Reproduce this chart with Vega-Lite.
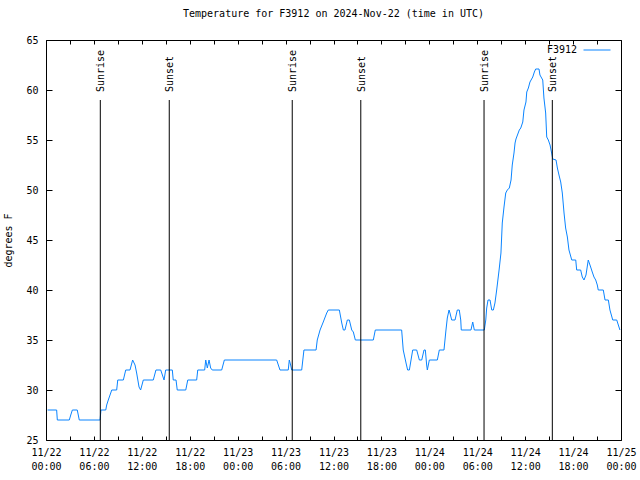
{
  "$schema": "https://vega.github.io/schema/vega-lite/v6.json",
  "width": 575,
  "height": 400,
  "autosize": {"type": "none"},
  "padding": {"left": 46, "top": 40, "right": 19, "bottom": 40},
  "background": "white",
  "title": {"text": "Temperature for F3912 on 2024-Nov-22 (time in UTC)", "font": "DejaVu Sans Mono", "fontSize": 10, "fontWeight": "normal", "anchor": "middle", "offset": 16, "color": "black"},
  "config": {
    "font": "DejaVu Sans Mono",
    "view": {"stroke": "black", "strokeWidth": 1},
    "axis": {"labelFont": "DejaVu Sans Mono", "labelFontSize": 10, "labelColor": "black", "tickColor": "black", "tickWidth": 1, "domain": false, "grid": false, "titleFont": "DejaVu Sans Mono", "titleFontSize": 10, "titleFontWeight": "normal", "titleColor": "black"}
  },
  "datasets": {
    "temps": [
      {"time": "2024-11-22T00:12:00Z", "temp": 28},
      {"time": "2024-11-22T01:20:00Z", "temp": 28},
      {"time": "2024-11-22T01:25:00Z", "temp": 27},
      {"time": "2024-11-22T02:55:00Z", "temp": 27},
      {"time": "2024-11-22T03:06:00Z", "temp": 27.5},
      {"time": "2024-11-22T03:18:00Z", "temp": 28},
      {"time": "2024-11-22T03:55:00Z", "temp": 28},
      {"time": "2024-11-22T04:10:00Z", "temp": 27},
      {"time": "2024-11-22T06:46:00Z", "temp": 27},
      {"time": "2024-11-22T06:53:00Z", "temp": 28},
      {"time": "2024-11-22T07:29:00Z", "temp": 28},
      {"time": "2024-11-22T07:36:00Z", "temp": 28.5},
      {"time": "2024-11-22T07:48:00Z", "temp": 29},
      {"time": "2024-11-22T08:01:00Z", "temp": 29.5},
      {"time": "2024-11-22T08:14:00Z", "temp": 30},
      {"time": "2024-11-22T08:51:00Z", "temp": 30},
      {"time": "2024-11-22T08:59:00Z", "temp": 31},
      {"time": "2024-11-22T09:41:00Z", "temp": 31},
      {"time": "2024-11-22T09:59:00Z", "temp": 32},
      {"time": "2024-11-22T10:31:00Z", "temp": 32},
      {"time": "2024-11-22T10:51:00Z", "temp": 33},
      {"time": "2024-11-22T11:09:00Z", "temp": 32.5},
      {"time": "2024-11-22T11:21:00Z", "temp": 31.7},
      {"time": "2024-11-22T11:39:00Z", "temp": 30.3},
      {"time": "2024-11-22T11:51:00Z", "temp": 30},
      {"time": "2024-11-22T12:11:00Z", "temp": 31},
      {"time": "2024-11-22T13:26:00Z", "temp": 31},
      {"time": "2024-11-22T13:46:00Z", "temp": 32},
      {"time": "2024-11-22T14:22:00Z", "temp": 32},
      {"time": "2024-11-22T14:47:00Z", "temp": 31},
      {"time": "2024-11-22T14:59:00Z", "temp": 32},
      {"time": "2024-11-22T15:49:00Z", "temp": 32},
      {"time": "2024-11-22T15:56:00Z", "temp": 31},
      {"time": "2024-11-22T16:17:00Z", "temp": 31},
      {"time": "2024-11-22T16:26:00Z", "temp": 30},
      {"time": "2024-11-22T17:30:00Z", "temp": 30},
      {"time": "2024-11-22T17:45:00Z", "temp": 31},
      {"time": "2024-11-22T18:52:00Z", "temp": 31},
      {"time": "2024-11-22T19:00:00Z", "temp": 32},
      {"time": "2024-11-22T19:52:00Z", "temp": 32},
      {"time": "2024-11-22T20:00:00Z", "temp": 33},
      {"time": "2024-11-22T20:12:00Z", "temp": 32.2},
      {"time": "2024-11-22T20:25:00Z", "temp": 33},
      {"time": "2024-11-22T20:37:00Z", "temp": 32.2},
      {"time": "2024-11-22T20:49:00Z", "temp": 32},
      {"time": "2024-11-22T22:00:00Z", "temp": 32},
      {"time": "2024-11-22T22:20:00Z", "temp": 33},
      {"time": "2024-11-23T04:53:00Z", "temp": 33},
      {"time": "2024-11-23T05:18:00Z", "temp": 32},
      {"time": "2024-11-23T06:20:00Z", "temp": 32},
      {"time": "2024-11-23T06:28:00Z", "temp": 33},
      {"time": "2024-11-23T06:38:00Z", "temp": 32.5},
      {"time": "2024-11-23T06:46:00Z", "temp": 32},
      {"time": "2024-11-23T08:01:00Z", "temp": 32},
      {"time": "2024-11-23T08:18:00Z", "temp": 34},
      {"time": "2024-11-23T09:49:00Z", "temp": 34},
      {"time": "2024-11-23T09:58:00Z", "temp": 35},
      {"time": "2024-11-23T10:19:00Z", "temp": 36},
      {"time": "2024-11-23T10:43:00Z", "temp": 36.8},
      {"time": "2024-11-23T11:09:00Z", "temp": 37.7},
      {"time": "2024-11-23T11:21:00Z", "temp": 38},
      {"time": "2024-11-23T12:44:00Z", "temp": 38},
      {"time": "2024-11-23T13:02:00Z", "temp": 36.7},
      {"time": "2024-11-23T13:14:00Z", "temp": 36},
      {"time": "2024-11-23T13:26:00Z", "temp": 36},
      {"time": "2024-11-23T13:44:00Z", "temp": 37},
      {"time": "2024-11-23T13:59:00Z", "temp": 37},
      {"time": "2024-11-23T14:17:00Z", "temp": 36},
      {"time": "2024-11-23T14:29:00Z", "temp": 35.8},
      {"time": "2024-11-23T14:44:00Z", "temp": 35},
      {"time": "2024-11-23T16:59:00Z", "temp": 35},
      {"time": "2024-11-23T17:14:00Z", "temp": 36},
      {"time": "2024-11-23T20:32:00Z", "temp": 36},
      {"time": "2024-11-23T20:44:00Z", "temp": 34},
      {"time": "2024-11-23T21:05:00Z", "temp": 32.7},
      {"time": "2024-11-23T21:17:00Z", "temp": 32},
      {"time": "2024-11-23T21:30:00Z", "temp": 32},
      {"time": "2024-11-23T21:55:00Z", "temp": 34},
      {"time": "2024-11-23T22:25:00Z", "temp": 34},
      {"time": "2024-11-23T22:45:00Z", "temp": 33},
      {"time": "2024-11-23T23:03:00Z", "temp": 33},
      {"time": "2024-11-23T23:20:00Z", "temp": 34},
      {"time": "2024-11-23T23:30:00Z", "temp": 34},
      {"time": "2024-11-23T23:40:00Z", "temp": 32.5},
      {"time": "2024-11-23T23:45:00Z", "temp": 32},
      {"time": "2024-11-24T00:00:00Z", "temp": 33},
      {"time": "2024-11-24T01:00:00Z", "temp": 33},
      {"time": "2024-11-24T01:15:00Z", "temp": 34},
      {"time": "2024-11-24T01:50:00Z", "temp": 34},
      {"time": "2024-11-24T02:05:00Z", "temp": 36},
      {"time": "2024-11-24T02:15:00Z", "temp": 37.2},
      {"time": "2024-11-24T02:28:00Z", "temp": 38},
      {"time": "2024-11-24T02:35:00Z", "temp": 37.7},
      {"time": "2024-11-24T02:48:00Z", "temp": 37},
      {"time": "2024-11-24T03:13:00Z", "temp": 37},
      {"time": "2024-11-24T03:30:00Z", "temp": 38},
      {"time": "2024-11-24T03:45:00Z", "temp": 38},
      {"time": "2024-11-24T03:56:00Z", "temp": 37},
      {"time": "2024-11-24T04:00:00Z", "temp": 36},
      {"time": "2024-11-24T05:13:00Z", "temp": 36},
      {"time": "2024-11-24T05:26:00Z", "temp": 36.8},
      {"time": "2024-11-24T05:38:00Z", "temp": 36},
      {"time": "2024-11-24T06:53:00Z", "temp": 36},
      {"time": "2024-11-24T07:04:00Z", "temp": 37},
      {"time": "2024-11-24T07:11:00Z", "temp": 38.2},
      {"time": "2024-11-24T07:21:00Z", "temp": 39},
      {"time": "2024-11-24T07:36:00Z", "temp": 39},
      {"time": "2024-11-24T07:49:00Z", "temp": 38},
      {"time": "2024-11-24T08:01:00Z", "temp": 38},
      {"time": "2024-11-24T08:13:00Z", "temp": 38.7},
      {"time": "2024-11-24T08:26:00Z", "temp": 40},
      {"time": "2024-11-24T08:44:00Z", "temp": 42},
      {"time": "2024-11-24T08:58:00Z", "temp": 43.7},
      {"time": "2024-11-24T09:08:00Z", "temp": 46.7},
      {"time": "2024-11-24T09:21:00Z", "temp": 48.3},
      {"time": "2024-11-24T09:34:00Z", "temp": 49.7},
      {"time": "2024-11-24T09:46:00Z", "temp": 50},
      {"time": "2024-11-24T10:01:00Z", "temp": 50.2},
      {"time": "2024-11-24T10:14:00Z", "temp": 51},
      {"time": "2024-11-24T10:23:00Z", "temp": 52.5},
      {"time": "2024-11-24T10:36:00Z", "temp": 53.7},
      {"time": "2024-11-24T10:44:00Z", "temp": 54.7},
      {"time": "2024-11-24T10:51:00Z", "temp": 55.1},
      {"time": "2024-11-24T11:16:00Z", "temp": 56},
      {"time": "2024-11-24T11:27:00Z", "temp": 56.2},
      {"time": "2024-11-24T11:42:00Z", "temp": 56.8},
      {"time": "2024-11-24T11:51:00Z", "temp": 58},
      {"time": "2024-11-24T12:06:00Z", "temp": 58.8},
      {"time": "2024-11-24T12:12:00Z", "temp": 59.8},
      {"time": "2024-11-24T12:24:00Z", "temp": 60.2},
      {"time": "2024-11-24T12:36:00Z", "temp": 60.8},
      {"time": "2024-11-24T12:57:00Z", "temp": 61.3},
      {"time": "2024-11-24T13:09:00Z", "temp": 61.8},
      {"time": "2024-11-24T13:19:00Z", "temp": 62.1},
      {"time": "2024-11-24T13:44:00Z", "temp": 62.1},
      {"time": "2024-11-24T13:51:00Z", "temp": 61.5},
      {"time": "2024-11-24T14:12:00Z", "temp": 61},
      {"time": "2024-11-24T14:21:00Z", "temp": 59.2},
      {"time": "2024-11-24T14:34:00Z", "temp": 57.7},
      {"time": "2024-11-24T14:42:00Z", "temp": 55.3},
      {"time": "2024-11-24T14:54:00Z", "temp": 55},
      {"time": "2024-11-24T15:07:00Z", "temp": 54.5},
      {"time": "2024-11-24T15:19:00Z", "temp": 53.7},
      {"time": "2024-11-24T15:27:00Z", "temp": 53.1},
      {"time": "2024-11-24T15:52:00Z", "temp": 53},
      {"time": "2024-11-24T16:02:00Z", "temp": 52.2},
      {"time": "2024-11-24T16:14:00Z", "temp": 51.5},
      {"time": "2024-11-24T16:27:00Z", "temp": 50.8},
      {"time": "2024-11-24T16:39:00Z", "temp": 49.7},
      {"time": "2024-11-24T16:52:00Z", "temp": 47.7},
      {"time": "2024-11-24T17:04:00Z", "temp": 46.2},
      {"time": "2024-11-24T17:17:00Z", "temp": 45.3},
      {"time": "2024-11-24T17:29:00Z", "temp": 44},
      {"time": "2024-11-24T17:50:00Z", "temp": 43},
      {"time": "2024-11-24T18:20:00Z", "temp": 43},
      {"time": "2024-11-24T18:27:00Z", "temp": 42},
      {"time": "2024-11-24T18:57:00Z", "temp": 42},
      {"time": "2024-11-24T19:09:00Z", "temp": 41.3},
      {"time": "2024-11-24T19:22:00Z", "temp": 41},
      {"time": "2024-11-24T19:37:00Z", "temp": 41.5},
      {"time": "2024-11-24T19:54:00Z", "temp": 43},
      {"time": "2024-11-24T20:12:00Z", "temp": 42.3},
      {"time": "2024-11-24T20:24:00Z", "temp": 41.8},
      {"time": "2024-11-24T20:37:00Z", "temp": 41.3},
      {"time": "2024-11-24T20:50:00Z", "temp": 41},
      {"time": "2024-11-24T21:02:00Z", "temp": 40.5},
      {"time": "2024-11-24T21:09:00Z", "temp": 40},
      {"time": "2024-11-24T21:47:00Z", "temp": 40},
      {"time": "2024-11-24T22:00:00Z", "temp": 39},
      {"time": "2024-11-24T22:25:00Z", "temp": 39},
      {"time": "2024-11-24T22:37:00Z", "temp": 38},
      {"time": "2024-11-24T22:58:00Z", "temp": 37},
      {"time": "2024-11-24T23:28:00Z", "temp": 37},
      {"time": "2024-11-24T23:40:00Z", "temp": 36.5},
      {"time": "2024-11-24T23:52:00Z", "temp": 36}
    ],
    "sun": [
      {"time": "2024-11-22T06:48:00Z", "event": "Sunrise"},
      {"time": "2024-11-22T15:26:00Z", "event": "Sunset"},
      {"time": "2024-11-23T06:50:00Z", "event": "Sunrise"},
      {"time": "2024-11-23T15:25:00Z", "event": "Sunset"},
      {"time": "2024-11-24T06:51:00Z", "event": "Sunrise"},
      {"time": "2024-11-24T15:24:00Z", "event": "Sunset"}
    ]
  },
  "layer": [
    {
      "data": {"name": "temps"},
      "mark": {"type": "line", "strokeWidth": 1},
      "encoding": {
        "x": {
          "field": "time", "type": "temporal",
          "scale": {"type": "utc", "domain": ["2024-11-22T00:00:00Z", "2024-11-25T00:00:00Z"]},
          "axis": {
            "orient": "bottom", "title": null,
            "tickCount": 36,
            "tickSize": -4,
            "labelExpr": "utchours(datum.value) % 6 == 0 ? [utcFormat(datum.value, '%m/%d'), utcFormat(datum.value, '%H:%M')] : ''",
            "labelPadding": 11, "labelLineHeight": 14, "labelOverlap": false, "labelFlush": false, "labelBound": false, "labelBaseline": "top"
          }
        },
        "y": {
          "field": "temp", "type": "quantitative",
          "scale": {"domain": [25, 65], "nice": false, "zero": false},
          "axis": {"orient": "left", "title": "degrees F", "values": [25, 30, 35, 40, 45, 50, 55, 60, 65], "tickSize": -6, "labelPadding": 14, "titlePadding": 12}
        },
        "color": {
          "datum": "F3912", "type": "nominal",
          "scale": {"range": ["#0a84ff"]},
          "legend": {"orient": "none", "legendX": 537, "legendY": -4, "title": null, "symbolType": "stroke", "symbolSize": 729, "symbolStrokeWidth": 1, "labelAlign": "right", "labelOffset": -34, "labelFont": "DejaVu Sans Mono", "labelFontSize": 10, "labelColor": "black"}
        }
      }
    },
    {
      "data": {"name": "sun"},
      "mark": {"type": "rule", "color": "black", "strokeWidth": 1},
      "encoding": {
        "x": {"field": "time", "type": "temporal", "axis": {"orient": "top", "title": null, "labels": false, "tickCount": 36, "tickSize": -4}},
        "y": {"datum": 59, "type": "quantitative", "axis": {"orient": "right", "title": null, "labels": false, "values": [25, 30, 35, 40, 45, 50, 55, 60, 65], "tickSize": -6}},
        "y2": {"datum": 25}
      }
    },
    {
      "data": {"name": "sun"},
      "mark": {"type": "text", "angle": 270, "align": "left", "baseline": "middle", "dx": 8, "dy": 1, "font": "DejaVu Sans Mono", "fontSize": 10, "color": "black"},
      "encoding": {
        "x": {"field": "time", "type": "temporal", "axis": null},
        "y": {"datum": 59, "type": "quantitative", "axis": null},
        "text": {"field": "event"}
      }
    }
  ],
  "resolve": {"axis": {"x": "independent", "y": "independent"}}
}
